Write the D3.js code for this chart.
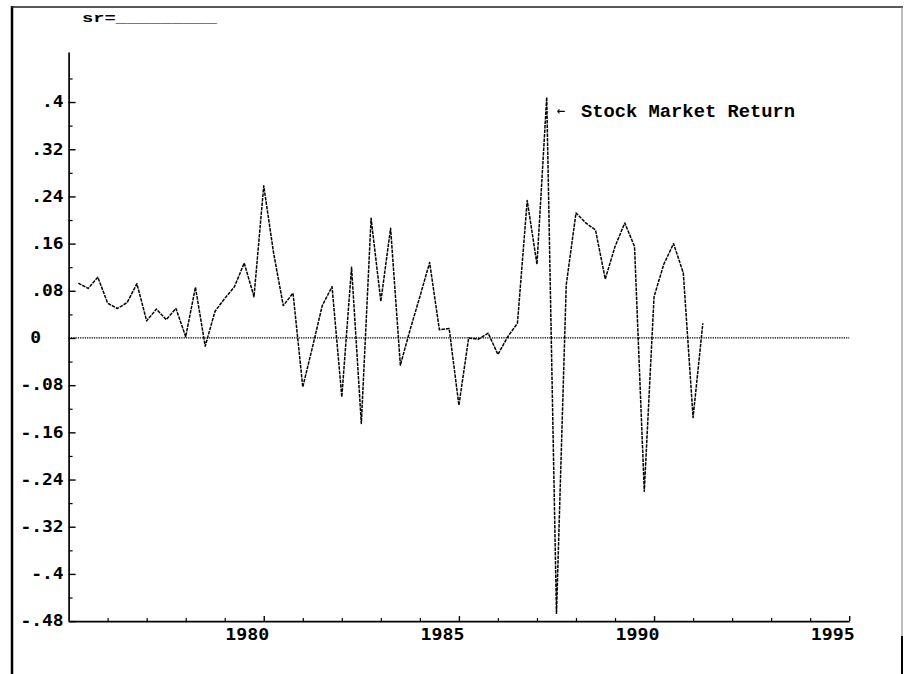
<!DOCTYPE html>
<html><head><meta charset="utf-8">
<script src="https://cdn.jsdelivr.net/npm/d3@7"></script>
<style>html,body{margin:0;padding:0;background:#fff;} svg{display:block;}</style>
</head><body>
<svg id="chart" width="905" height="674"></svg>
<script>
// ---- data (quarterly) ----
const quarters = [
  1975.25, 1975.5, 1975.75,
  1976.0, 1976.25, 1976.5, 1976.75,
  1977.0, 1977.25, 1977.5, 1977.75,
  1978.0, 1978.25, 1978.5, 1978.75,
  1979.0, 1979.25, 1979.5, 1979.75,
  1980.0, 1980.25, 1980.5, 1980.75,
  1981.0, 1981.25, 1981.5, 1981.75,
  1982.0, 1982.25, 1982.5, 1982.75,
  1983.0, 1983.25, 1983.5, 1983.75,
  1984.0, 1984.25, 1984.5, 1984.75,
  1985.0, 1985.25, 1985.5, 1985.75,
  1986.0, 1986.25, 1986.5, 1986.75,
  1987.0, 1987.25, 1987.5, 1987.75,
  1988.0, 1988.25, 1988.5, 1988.75,
  1989.0, 1989.25, 1989.5, 1989.75,
  1990.0, 1990.25, 1990.5, 1990.75,
  1991.0, 1991.25
];
const stockReturn = [
  0.093, 0.084, 0.103,
  0.059, 0.050, 0.060, 0.092,
  0.029, 0.049, 0.031, 0.050,
  0.002, 0.086, -0.014, 0.045,
  0.067, 0.087, 0.127, 0.070,
  0.258, 0.145, 0.055, 0.076,
  -0.083, -0.015, 0.055, 0.087,
  -0.100, 0.120, -0.145, 0.203,
  0.062, 0.186, -0.046, 0.014,
  0.070, 0.128, 0.014, 0.016,
  -0.114, 0.000, -0.002, 0.008,
  -0.028, 0.002, 0.025, 0.233,
  0.125, 0.408, -0.468, 0.090,
  0.212, 0.195, 0.183, 0.100,
  0.155, 0.195, 0.155, -0.260,
  0.070, 0.125, 0.160, 0.110,
  -0.135, 0.025
];
const yMajorTicks  = [-0.48, -0.4, -0.32, -0.24, -0.16, -0.08, 0, 0.08, 0.16, 0.24, 0.32, 0.4];
const yMajorLabels = ["-.48", "-.4", "-.32", "-.24", "-.16", "-.08", "0", ".08", ".16", ".24", ".32", ".4"];
const yMinorTicks  = [-0.44, -0.36, -0.28, -0.2, -0.12, -0.04, 0.04, 0.12, 0.2, 0.28, 0.36, 0.44];
const xMajorTicks  = [1980, 1985, 1990, 1995];
const xMajorLabels = ["1980", "1985", "1990", "1995"];
const xMinorTicks  = [1976, 1977, 1978, 1979, 1981, 1982, 1983, 1984, 1986, 1987, 1988, 1989, 1991, 1992, 1993, 1994];
const seriesLabel  = "Stock Market Return";
const headerLabel  = "sr=_________";

// ---- drawing ----
const svg = d3.select("#chart");
const numFont = "'DejaVu Sans Mono', monospace";
const serifFont = "'Liberation Mono', 'Courier New', monospace";

const x = d3.scaleLinear().domain([1975, 1995]).range([68.6, 849.2]);
const y = d3.scaleLinear().domain([-0.48, 0.485]).range([621.1, 51.9]);

// page frame
const frame = svg.append("g").attr("fill", "none");
frame.append("line").attr("x1", 12).attr("x2", 12).attr("y1", 6).attr("y2", 674)
  .attr("stroke", "#000").attr("stroke-width", 2.5);
frame.append("line").attr("x1", 11).attr("x2", 903).attr("y1", 7).attr("y2", 7)
  .attr("stroke", "#222").attr("stroke-width", 1.5);
frame.append("line").attr("x1", 902).attr("x2", 902).attr("y1", 7).attr("y2", 674)
  .attr("stroke", "#888").attr("stroke-width", 1.1);
frame.append("line").attr("x1", 902).attr("x2", 902).attr("y1", 636).attr("y2", 674)
  .attr("stroke", "#000").attr("stroke-width", 2);

// header
svg.append("text").attr("x", 82).attr("y", 22)
  .attr("font-family", serifFont).attr("font-weight", "bold").attr("font-size", 13)
  .attr("textLength", 135).attr("lengthAdjust", "spacingAndGlyphs")
  .attr("fill", "#000").text(headerLabel);

// zero reference line (dotted)
svg.append("line")
  .attr("x1", x(1975)).attr("x2", x(1995)).attr("y1", y(0)).attr("y2", y(0))
  .attr("stroke", "#000").attr("stroke-width", 1.2).attr("stroke-dasharray", "1.3,1");

// y axis (major + labels)
const yAx = svg.append("g").attr("transform", `translate(${x(1975)},0)`)
  .call(d3.axisLeft(y).tickValues(yMajorTicks).tickSize(-7).tickSizeOuter(0).tickPadding(5)
    .tickFormat((d, i) => yMajorLabels[i]));
yAx.select(".domain").attr("stroke", "#000").attr("stroke-width", 1.7);
yAx.selectAll(".tick line").attr("stroke", "#000").attr("stroke-width", 1.4);
yAx.selectAll(".tick text")
  .attr("font-family", numFont).attr("font-weight", "bold").attr("font-size", 15).attr("fill", "#000")
  .attr("textLength", (d, i) => yMajorLabels[i].length * 10.8).attr("lengthAdjust", "spacingAndGlyphs")
  .attr("x", d => d === 0 ? -27.6 : -5);
yAx.attr("font-size", null).attr("font-family", null);

// y minor ticks
const yMin = svg.append("g").attr("transform", `translate(${x(1975)},0)`)
  .call(d3.axisLeft(y).tickValues(yMinorTicks).tickSize(-4).tickSizeOuter(0).tickFormat(""));
yMin.select(".domain").remove();
yMin.selectAll(".tick line").attr("stroke", "#000").attr("stroke-width", 1.2);

// x axis (major + labels)
const xAx = svg.append("g").attr("transform", `translate(0,${y(-0.48)})`)
  .call(d3.axisBottom(x).tickValues(xMajorTicks).tickSize(-5).tickSizeOuter(0)
    .tickFormat((d, i) => xMajorLabels[i]));
xAx.select(".domain").attr("stroke", "#000").attr("stroke-width", 1.7);
xAx.selectAll(".tick line").attr("stroke", "#000").attr("stroke-width", 1.4);
xAx.selectAll(".tick text")
  .attr("font-family", numFont).attr("font-weight", "bold").attr("font-size", 15).attr("fill", "#000")
  .attr("textLength", 44).attr("lengthAdjust", "spacingAndGlyphs")
  .attr("text-anchor", "end").attr("x", 5).attr("y", 18.5).attr("dy", null);
xAx.attr("font-size", null).attr("font-family", null);

// x minor ticks
const xMin = svg.append("g").attr("transform", `translate(0,${y(-0.48)})`)
  .call(d3.axisBottom(x).tickValues(xMinorTicks).tickSize(-3).tickSizeOuter(0).tickFormat(""));
xMin.select(".domain").remove();
xMin.selectAll(".tick line").attr("stroke", "#000").attr("stroke-width", 1.2);

// series line (dashed)
const line = d3.line().x((d, i) => x(quarters[i])).y(d => y(d));
svg.append("path").datum(stockReturn)
  .attr("d", line).attr("fill", "none")
  .attr("stroke", "#000").attr("stroke-width", 1.5)
  .attr("stroke-dasharray", "3.5,1").attr("stroke-linejoin", "round");

// series annotation
const peakIdx = stockReturn.indexOf(d3.max(stockReturn));
svg.append("text").attr("x", x(quarters[peakIdx]) + 10).attr("y", 115)
  .attr("font-family", numFont).attr("font-size", 14).attr("fill", "#000").text("←");
svg.append("text").attr("x", 581).attr("y", 117)
  .attr("font-family", serifFont).attr("font-weight", "bold").attr("font-size", 19)
  .attr("textLength", 214).attr("lengthAdjust", "spacingAndGlyphs")
  .attr("fill", "#000").text(seriesLabel);
</script>
</body></html>
